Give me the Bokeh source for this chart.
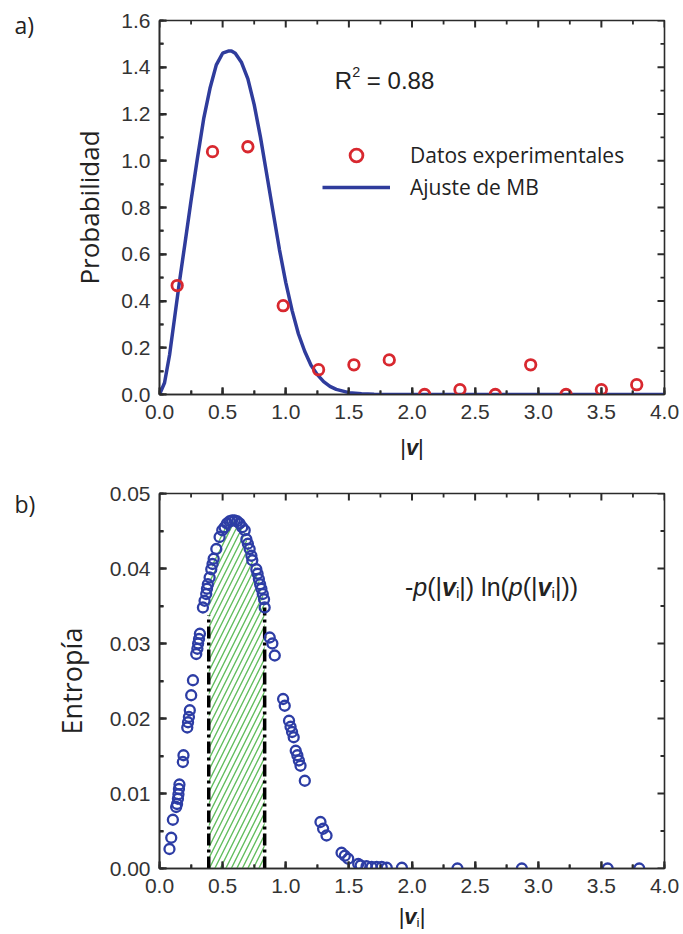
import numpy as np
from bokeh.plotting import figure
from bokeh.models import Label, Legend, LegendItem, SingleIntervalTicker, PrintfTickFormatter, Range1d
from bokeh.layouts import column, row
from bokeh.embed import file_html
from bokeh.resources import INLINE

# ---------------- data ----------------
# a) experimental probability points
exp_v = [0.14, 0.42, 0.70, 0.98, 1.26, 1.54, 1.82, 2.10, 2.38, 2.66, 2.94, 3.22, 3.50, 3.78]
exp_p = [0.466, 1.039, 1.06, 0.38, 0.106, 0.127, 0.148, 0.0, 0.021, 0.0, 0.127, 0.0, 0.021, 0.042]

# a) Maxwell-Boltzmann fit curve (points read along the drawn curve)
mb_v = [0.0, 0.04, 0.08, 0.12, 0.16, 0.20, 0.25, 0.30, 0.35, 0.40, 0.45, 0.50, 0.55, 0.57,
        0.60, 0.65, 0.70, 0.75, 0.80, 0.85, 0.90, 0.95, 1.00, 1.05, 1.10, 1.15, 1.20, 1.25,
        1.30, 1.35, 1.40, 1.50, 1.60, 1.70, 1.80, 2.00, 4.00]
mb_p = [0.0, 0.05, 0.17, 0.33, 0.49, 0.64, 0.83, 1.01, 1.18, 1.31, 1.41, 1.46, 1.47, 1.47,
        1.46, 1.42, 1.35, 1.24, 1.10, 0.94, 0.78, 0.62, 0.48, 0.36, 0.26, 0.185, 0.125, 0.085,
        0.055, 0.035, 0.022, 0.008, 0.003, 0.001, 0.0, 0.0, 0.0]

# b) entropy contributions -p ln p
ent_v = [0.079, 0.093, 0.106, 0.132, 0.139, 0.146, 0.150, 0.154, 0.158, 0.185, 0.190, 0.220,
         0.226, 0.233, 0.240, 0.251, 0.265, 0.291, 0.300, 0.306, 0.313, 0.320, 0.344, 0.357,
         0.370, 0.376, 0.383, 0.397, 0.410, 0.420, 0.429, 0.450, 0.476, 0.497, 0.516, 0.534,
         0.556, 0.575, 0.595, 0.614, 0.635, 0.655, 0.675, 0.688, 0.700, 0.714, 0.728, 0.735,
         0.767, 0.777, 0.787, 0.797, 0.807, 0.818, 0.828, 0.833, 0.873, 0.894, 0.913, 0.979,
         0.992, 1.026, 1.038, 1.050, 1.063, 1.079, 1.092, 1.104, 1.117, 1.151, 1.275, 1.296,
         1.323, 1.442, 1.468, 1.495, 1.574, 1.593, 1.640, 1.680, 1.720, 1.760, 1.800, 1.920,
         2.360, 2.870, 3.550, 3.800]
ent_s = [0.0026, 0.0041, 0.0065, 0.0082, 0.0086, 0.0093, 0.0099, 0.0106, 0.0112, 0.0142, 0.0151, 0.0188,
         0.0195, 0.0202, 0.0211, 0.0231, 0.0251, 0.0286, 0.0293, 0.0300, 0.0306, 0.0313, 0.0348, 0.0357,
         0.0366, 0.0373, 0.0379, 0.0388, 0.0399, 0.0406, 0.0413, 0.0426, 0.0442, 0.0451, 0.0455, 0.0460,
         0.0463, 0.0464, 0.0464, 0.0463, 0.0460, 0.0455, 0.0451, 0.0439, 0.0433, 0.0426, 0.0417, 0.0411,
         0.0399, 0.0393, 0.0386, 0.0379, 0.0373, 0.0366, 0.0359, 0.0348, 0.0308, 0.0300, 0.0284, 0.0226,
         0.0217, 0.0197, 0.0189, 0.0182, 0.0175, 0.0157, 0.0151, 0.0144, 0.0137, 0.0117, 0.0062, 0.0053,
         0.0044, 0.0021, 0.0017, 0.0013, 0.0006, 0.0004, 0.0003, 0.0002, 0.0002, 0.0002, 0.0001, 0.0001,
         0.0, 0.0, 0.0, 0.0]

# b) shaded interval (dash-dot boundaries and their heights)
interval_v = [0.39, 0.833]
interval_top = [0.0338, 0.0348]

# axis settings
x_max, x_step = 4.0, 0.5
a_ymax, a_ystep = 1.6, 0.2
b_ymax, b_ystep = 0.05, 0.01

# ---------------- styling / layout ----------------
TICK_FONT = "Liberation Sans"
LABEL_FONT = "Open Sans"
FRAME = "#2b2b2b"
TXT = "#222222"
RED = "#D8282F"
BLUE_LINE = "#2F3C9C"
BLUE_PTS = "#2D3DA5"
GREEN = "#62BD5E"
SIDE_W = 44
FIG_W = 683 - SIDE_W
B_LEFT = 159 - SIDE_W
B_RIGHT = 19
FRAME_W = FIG_W - B_LEFT - B_RIGHT

W = {'-': 333, 'p': 556, '(': 333, ')': 333, '|': 260, ' ': 278, 'l': 222, 'n': 556,
     'i': 222, 'v': 500, 'R': 722, '2': 556, '=': 584, '0': 556, '.': 278, '8': 556}
WB = {'v': 556, '|': 280}


def text_width(t, style, fs):
    tbl = WB if 'bold' in style else {}
    return sum(tbl.get(c, W[c]) for c in t) * fs / 1000.0


def rich(p, x, y, pieces, font, size, color, center=False, baseline="alphabetic"):
    widths = [text_width(t, s, size * sc) for t, s, sc, dy in pieces]
    off = -sum(widths) / 2 if center else 0.0
    for (t, s, sc, dy), w in zip(pieces, widths):
        fs = size * sc
        lead = len(t) - len(t.lstrip(' '))
        shown = t.strip(' ')
        p.add_layout(Label(x=x, y=y, x_offset=off + text_width(' ' * lead, s, fs), y_offset=dy,
                           text=shown, text_font=font, text_font_size=f"{fs:.1f}px",
                           text_font_style=s, text_color=color, text_baseline=baseline,
                           text_align="left"))
        off += w


def style_axis(ax, interval, fmt, standoff):
    ax.ticker = SingleIntervalTicker(interval=interval, num_minor_ticks=2)
    ax.formatter = PrintfTickFormatter(format=fmt)
    ax.major_tick_in = 7
    ax.major_tick_out = 0
    ax.minor_tick_in = 4
    ax.minor_tick_out = 0
    ax.major_tick_line_color = FRAME
    ax.major_tick_line_width = 2
    ax.minor_tick_line_color = FRAME
    ax.minor_tick_line_width = 1.8
    ax.axis_line_color = FRAME
    ax.axis_line_width = 1.6
    ax.major_label_text_font = TICK_FONT
    ax.major_label_text_font_size = "21px"
    ax.major_label_text_color = "#333333"
    ax.major_label_standoff = standoff


def inward_ticks(p, y_max, y_step, frame_h):
    # tick marks pointing into the frame on all four sides, as short polylines
    dx = x_max / FRAME_W
    dy = y_max / frame_h
    xm = [float(v) for v in np.arange(0, x_max + 1e-9, x_step)]
    xn = [float(v) for v in np.arange(x_step / 2, x_max, x_step)]
    ym = [float(v) for v in np.arange(0, y_max + y_step * 1e-6, y_step)]
    yn = [float(v) for v in np.arange(y_step / 2, y_max, y_step)]
    for xs, ln, lw in ((xm, 7, 2.0), (xn, 4, 1.8)):
        txs = [[x, x] for x in xs] * 2
        tys = [[0.0, ln * dy] for _ in xs] + [[y_max, y_max - ln * dy] for _ in xs]
        p.multi_line(xs=txs, ys=tys, line_color=FRAME, line_width=lw)
    for ys, ln, lw in ((ym, 7, 2.0), (yn, 4, 1.8)):
        txs = [[0.0, ln * dx] for _ in ys] + [[x_max, x_max - ln * dx] for _ in ys]
        tys = [[y, y] for y in ys] * 2
        p.multi_line(xs=txs, ys=tys, line_color=FRAME, line_width=lw)


def make_fig(height, y_max, y_step, y_fmt, border_top, border_bottom):
    p = figure(width=FIG_W, height=height, x_range=Range1d(0, x_max),
               y_range=Range1d(0, y_max), output_backend="svg", toolbar_location=None,
               min_border_left=B_LEFT, min_border_right=B_RIGHT,
               min_border_top=border_top, min_border_bottom=border_bottom)
    p.grid.visible = False
    p.outline_line_color = FRAME
    p.outline_line_width = 1.6
    p.background_fill_color = "white"
    p.border_fill_color = "white"
    style_axis(p.below[0], x_step, "%.1f", 10)
    style_axis(p.left[0], y_step, y_fmt, 9)
    inward_ticks(p, y_max, y_step, height - border_top - border_bottom)
    return p


def text_canvas(width, height, x_range, border_left=0, border_right=0):
    f = figure(width=width, height=height, x_range=Range1d(*x_range),
               y_range=Range1d(height, 0), output_backend="svg", toolbar_location=None,
               x_axis_type=None, y_axis_type=None, min_border_left=border_left,
               min_border_right=border_right, min_border_top=0, min_border_bottom=0)
    f.outline_line_color = None
    f.background_fill_color = "white"
    f.border_fill_color = "white"
    return f


# ---------------- a) ----------------
p1 = make_fig(428, a_ymax, a_ystep, "%.1f", 20, 34)
yl = p1.left[0]
yl.axis_label = "Probabilidad"
yl.axis_label_text_font = LABEL_FONT
yl.axis_label_text_font_size = "26px"
yl.axis_label_text_font_style = "normal"
yl.axis_label_text_color = TXT
yl.axis_label_standoff = 11

r_line = p1.line(mb_v, mb_p, line_color=BLUE_LINE, line_width=3.5)
r_pts = p1.scatter(exp_v, exp_p, marker="circle", size=10.5, fill_color=None,
                   line_color=RED, line_width=2.8)

legend = Legend(items=[LegendItem(label="Datos experimentales", renderers=[r_pts]),
                       LegendItem(label="Ajuste de MB", renderers=[r_line])],
                location=(163, 191), orientation="vertical",
                glyph_width=68, glyph_height=32, label_height=32, spacing=0,
                padding=0, margin=0, label_standoff=20,
                label_text_font=LABEL_FONT, label_text_font_size="21px",
                label_text_color=TXT, background_fill_alpha=0, border_line_alpha=0)
p1.add_layout(legend)

rich(p1, 1.389, 1.343, [("R", "normal", 1.0, 0), ("2", "normal", 0.6, 9),
                        (" = 0.88", "normal", 1.0, 0)], TICK_FONT, 24, TXT)

xlab1 = text_canvas(FIG_W, 37, (0, x_max), B_LEFT, B_RIGHT)
rich(xlab1, 2.0, 19, [("|", "normal", 1.0, 0), ("v", "bold italic", 1.0, 0),
                      ("|", "normal", 1.0, 0)], TICK_FONT, 22, TXT, center=True,
     baseline="middle")

side_a = text_canvas(SIDE_W, 465, (0, SIDE_W))
side_a.add_layout(Label(x=14, y=24, text="a)", text_font=LABEL_FONT, text_font_size="23px",
                        text_color=TXT, text_baseline="middle"))

# ---------------- b) ----------------
p2 = make_fig(434, b_ymax, b_ystep, "%.2f", 28, 31)
yl2 = p2.left[0]
yl2.axis_label = "Entropía"
yl2.axis_label_text_font = LABEL_FONT
yl2.axis_label_text_font_size = "27px"
yl2.axis_label_text_font_style = "normal"
yl2.axis_label_text_color = TXT
yl2.axis_label_standoff = 17

lo, hi = interval_v
hx = [lo] + [v for v in ent_v if lo < v < hi] + [hi]
hy = [interval_top[0]] + [s for v, s in zip(ent_v, ent_s) if lo < v < hi] + [interval_top[1]]
p2.varea(x=hx, y1=[0] * len(hx), y2=hy, fill_alpha=0, hatch_pattern="/",
         hatch_color=GREEN, hatch_scale=11, hatch_weight=1.4)
p2.segment(x0=interval_v, y0=[0, 0], x1=interval_v, y1=interval_top, line_color="black",
           line_width=3.5, line_dash="12 4 3 4")
p2.scatter(ent_v, ent_s, marker="circle", size=10, fill_color=None, line_color=BLUE_PTS,
           line_width=2.3)

rich(p2, 1.944, 0.03747, [("-", "normal", 1.0, 0), ("p", "italic", 1.0, 0),
                          ("(|", "normal", 1.0, 0), ("v", "bold italic", 1.0, 0),
                          ("i", "normal", 0.62, -5), ("|) ln(", "normal", 1.0, 0),
                          ("p", "italic", 1.0, 0), ("(|", "normal", 1.0, 0),
                          ("v", "bold italic", 1.0, 0), ("i", "normal", 0.62, -5),
                          ("|))", "normal", 1.0, 0)], TICK_FONT, 25, TXT)

xlab2 = text_canvas(FIG_W, 35, (0, x_max), B_LEFT, B_RIGHT)
rich(xlab2, 2.0, 17, [("|", "normal", 1.0, 0), ("v", "bold italic", 1.0, 0),
                      ("i", "normal", 0.62, -6), ("|", "normal", 1.0, 0)],
     TICK_FONT, 22, TXT, center=True, baseline="middle")

side_b = text_canvas(SIDE_W, 469, (0, SIDE_W))
side_b.add_layout(Label(x=14, y=38, text="b)", text_font=LABEL_FONT, text_font_size="23px",
                        text_color=TXT, text_baseline="middle"))

layout = column(row(side_a, column(p1, xlab1, spacing=0), spacing=0),
                row(side_b, column(p2, xlab2, spacing=0), spacing=0), spacing=0)
open("out.html", "w").write(file_html(layout, INLINE))
